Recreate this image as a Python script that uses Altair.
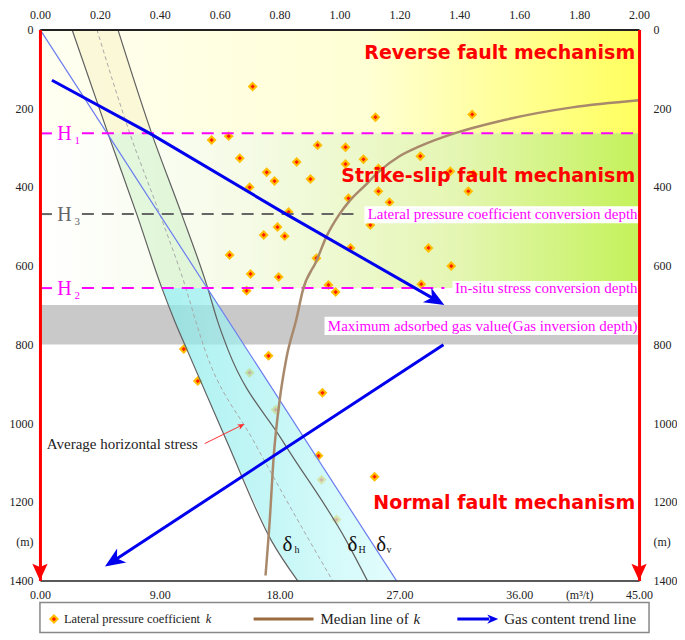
import altair as alt
import pandas as pd

# ---------------- data ----------------
# lateral pressure coefficient k vs depth (m)
k_vals = [0.71, 0.573, 0.63, 0.927, 1.02, 0.667, 0.857, 1.02, 1.08, 0.757,
          0.783, 0.903, 0.70, 1.13, 1.03, 0.83, 1.103, 0.793, 0.747, 0.817,
          1.037, 0.923, 0.633, 0.703, 0.797, 0.963, 0.69, 0.987, 1.12, 1.443,
          1.27, 1.37, 1.43, 1.167, 1.297, 1.373, 1.273, 1.13, 1.447,
          0.48, 0.763, 0.70, 0.527, 0.943, 0.787, 0.93, 0.94, 0.99, 1.117]
k_depth = [145, 281, 271, 294, 299, 327, 337, 342, 330, 363,
           385, 380, 401, 411, 429, 464, 497, 502, 522, 525,
           555, 581, 573, 621, 629, 649, 664, 667, 223, 216,
           322, 360, 411, 439, 555, 601, 647, 353, 368,
           812, 829, 872, 893, 923, 966, 1083, 1144, 1245, 1136]

# stress profiles (plotted on the k axis frame)
stress_depth = [0, 264, 469, 657, 741, 812, 1045, 1299, 1400]
sigma_h = [0.107, 0.227, 0.323, 0.407, 0.45, 0.49, 0.623, 0.773, 0.86]
sigma_H = [0.26, 0.373, 0.473, 0.56, 0.593, 0.627, 0.81, 1.023, 1.093]
sigma_avg = [0.19, 0.30, 0.40, 0.487, 0.52, 0.55, 0.713, 0.90, 0.977]
band_right = [0.26, 0.373, 0.473, 0.56, 0.63, 0.69, 0.888, 1.104, 1.19]
sigma_v_k = [0.0, 1.19]
sigma_v_depth = [0, 1400]

# median line of k
median_k = [0.753, 0.767, 0.78, 0.80, 0.823, 0.857, 0.877, 0.923, 0.957, 1.0,
            1.033, 1.083, 1.133, 1.2, 1.267, 1.383, 1.533, 1.777, 2.0]
median_depth = [1387, 1248, 1088, 943, 834, 733, 664, 588, 525, 469,
                436, 398, 360, 322, 297, 264, 233, 198, 180]

# gas content trend lines
trend1_k = [0.04, 0.367, 0.81, 1.321]
trend1_depth = [129, 264, 464, 687]
trend2_k = [1.347, 0.245]
trend2_depth = [801, 1350]
arrow_k = [1.35, 0.217]
arrow_depth = [700, 1364]
arrow_angle = [30, 147]

# key depths
H_names = ["H", "H", "H"]
H_subs = ["1", "3", "2"]
H_depth = [264, 469, 657]
gas_band = [700, 800]

# zone names
zone_names = ["Reverse fault mechanism", "Strike-slip fault mechanism",
              "Normal fault mechanism"]
zone_depth = [61, 373, 1202]

notes = ["Lateral pressure coefficient conversion depth",
         "In-situ stress conversion depth",
         "Maximum adsorbed gas value(Gas inversion depth)"]
note_depth = [469, 657, 753]
note_box_left = [1.083, 1.377, 0.95]
note_box_top = [449, 639, 730]
note_box_bottom = [492, 677, 776]

top_ticks = [0.0, 0.2, 0.4, 0.6, 0.8, 1.0, 1.2, 1.4, 1.6, 1.8, 2.0]
bottom_ticks = [0.0, 0.4, 0.8, 1.2, 1.6, 1.8, 2.0]
depth_ticks = [0, 200, 400, 600, 800, 1000, 1200, 1300, 1400]

SERIF = "Liberation Serif"
SANS_BOLD = "DejaVu Sans"

X = alt.Scale(domain=[0, 2], nice=False, zero=False)
Y = alt.Scale(domain=[0, 1400], nice=False, zero=False, reverse=True)


def xq(f):
    return alt.X(f"{f}:Q", scale=X, axis=None)


def yq(f):
    return alt.Y(f"{f}:Q", scale=Y, axis=None)


def grad(stops):
    return alt.LinearGradient(
        gradient="linear",
        stops=[alt.GradientStop(offset=o, color=c) for o, c in stops],
        x1=0, x2=1, y1=0, y2=0)


# ---------------- tables ----------------
pts = pd.DataFrame({"k": k_vals, "d": k_depth})
stress = pd.DataFrame({"d": stress_depth, "h": sigma_h, "H": sigma_H,
                       "avg": sigma_avg, "r": band_right,
                       "i": range(len(stress_depth))})
sv = pd.DataFrame({"k": sigma_v_k, "d": sigma_v_depth, "i": [0, 1]})
med = pd.DataFrame({"k": median_k, "d": median_depth,
                    "i": range(len(median_k))})
tr1 = pd.DataFrame({"k": trend1_k, "d": trend1_depth, "i": range(len(trend1_k))})
tr2 = pd.DataFrame({"k": trend2_k, "d": trend2_depth, "i": range(len(trend2_k))})
arrows = pd.DataFrame({"k": arrow_k, "d": arrow_depth, "a": arrow_angle})

zone1 = pd.DataFrame({"x0": [0], "x1": [2], "t": [0], "b": [H_depth[0]]})
zone2 = pd.DataFrame({"x0": [0], "x1": [2], "t": [H_depth[0]], "b": [H_depth[2]]})
grey = pd.DataFrame({"x0": [0], "x1": [2], "t": [gas_band[0]], "b": [gas_band[1]]})

# dashed key-depth lines (split around the H labels)
hl = pd.DataFrame({
    "x0": [0, 0.14, 0, 0.14, 0, 0.14],
    "x1": [0.04, 2.0, 0.04, 1.05, 0.04, 1.35],
    "d": [264, 264, 469, 469, 657, 657],
    "c": ["m", "m", "g", "g", "m", "m"]})

hlab = pd.DataFrame({"k": [0.058] * 3, "ks": [0.115] * 3, "d": H_depth,
                     "t": H_names, "s": H_subs,
                     "c": ["#ff00ff", "#666666", "#ff00ff"]})

zlab = pd.DataFrame({"k": [1.987] * 3, "d": zone_depth, "t": zone_names})
nlab = pd.DataFrame({"k": [1.995] * 3, "d": note_depth, "t": notes,
                     "x0": note_box_left, "x1": [2.0] * 3,
                     "t0": note_box_top, "b0": note_box_bottom})

deltas = pd.DataFrame({"k": [0.81, 1.027, 1.123], "ks": [0.85, 1.063, 1.157],
                       "d": [1324] * 3, "ds": [1331] * 3,
                       "s": ["h", "H", "v"]})

avg_arrow = pd.DataFrame({"k": [0.55, 0.672], "d": [1052, 1006], "i": [0, 1]})
avg_tip = pd.DataFrame({"k": [0.683], "d": [1002]})
avg_text = pd.DataFrame({"k": [0.023], "d": [1052], "t": ["Average horizontal stress"]})

axis_frame = pd.DataFrame({"k": [0, 2], "d": [0, 1400]})
red_tips = pd.DataFrame({"k": [0, 2], "d": [1400, 1400]})

ARROW = "M0,0 L-1,-0.42 L-0.72,0 L-1,0.42 Z"
DOWN = "M0,0 L-0.45,-1 L0,-0.8 L0.45,-1 Z"

# ---------------- layers ----------------
L = []
L.append(alt.Chart(zone1).mark_rect(fill=grad([(0, "#fffff2"), (0.55, "#ffffd4"), (1, "#ffff5e")]))
         .encode(x=xq("x0"), x2="x1", y=yq("t"), y2="b"))
L.append(alt.Chart(zone2).mark_rect(fill=grad([(0, "#ffffff"), (0.35, "#f5fbe6"), (0.7, "#e4f6b2"), (1, "#c4f25a")]))
         .encode(x=xq("x0"), x2="x1", y=yq("t"), y2="b"))
L.append(alt.Chart(grey).mark_rect(fill="#c9c9c9")
         .encode(x=xq("x0"), x2="x1", y=yq("t"), y2="b"))

# scatter
L.append(alt.Chart(pts).mark_point(shape="diamond", filled=True, size=100,
                                   color="#ffbe00", opacity=1, strokeWidth=0)
         .encode(x=xq("k"), y=yq("d")))
L.append(alt.Chart(pts).mark_point(shape="diamond", filled=True, size=18,
                                   color="#ff1a00", opacity=1, strokeWidth=0)
         .encode(x=xq("k"), y=yq("d")))

# stress band
L.append(alt.Chart(stress).transform_filter("datum.d <= 264")
         .mark_area(orient="horizontal", fill="#f6f0c0", opacity=0.45)
         .encode(y=yq("d"), x=alt.X("h:Q", scale=X, axis=None, stack=None), x2="r"))
L.append(alt.Chart(stress).transform_filter("datum.d >= 264 && datum.d <= 657")
         .mark_area(orient="horizontal", fill="#c6efbe", opacity=0.45)
         .encode(y=yq("d"), x=alt.X("h:Q", scale=X, axis=None, stack=None), x2="r"))
L.append(alt.Chart(stress).transform_filter("datum.d >= 657")
         .mark_area(orient="horizontal", fill=grad([(0, "#86eaea"), (1, "#d8fcfc")]), opacity=0.7)
         .encode(y=yq("d"), x=alt.X("h:Q", scale=X, axis=None, stack=None), x2="r"))

# stress lines
for f, col, dash, w in [("h", "#606060", None, 1.2), ("H", "#606060", None, 1.2),
                        ("avg", "#a8a8a8", [4, 3], 1.0)]:
    kw = dict(color=col, strokeWidth=w, interpolate="monotone")
    if dash:
        kw["strokeDash"] = dash
    L.append(alt.Chart(stress).mark_line(**kw)
             .encode(x=xq(f), y=yq("d"), order=alt.Order("i:Q")))
L.append(alt.Chart(sv).mark_line(color="#6a7cf0", strokeWidth=1.2)
         .encode(x=xq("k"), y=yq("d"), order=alt.Order("i:Q")))

# key depth dashed lines
L.append(alt.Chart(hl).mark_rule(strokeDash=[12, 8], strokeWidth=2)
         .encode(x=xq("x0"), x2="x1", y=yq("d"),
                 color=alt.Color("c:N", scale=alt.Scale(domain=["m", "g"], range=["#ff00ff", "#666666"]),
                                 legend=None)))

# median line
L.append(alt.Chart(med).mark_line(color="#a8896c", strokeWidth=2.5, interpolate="monotone")
         .encode(x=xq("k"), y=yq("d"), order=alt.Order("i:Q")))

# white boxes behind notes + notes
L.append(alt.Chart(nlab).mark_rect(fill="white")
         .encode(x=xq("x0"), x2="x1", y=yq("t0"), y2="b0"))
L.append(alt.Chart(nlab).mark_text(align="right", baseline="middle", font=SERIF,
                                   fontSize=15, color="#ff00ff")
         .encode(x=xq("k"), y=yq("d"), text="t:N"))

# H labels
L.append(alt.Chart(hlab).mark_text(align="left", baseline="alphabetic", font=SERIF,
                                   fontSize=20, dy=7)
         .encode(x=xq("k"), y=yq("d"), text="t:N", color=alt.Color("c:N", scale=None)))
L.append(alt.Chart(hlab).mark_text(align="left", baseline="alphabetic", font=SERIF,
                                   fontSize=11, dy=11)
         .encode(x=xq("ks"), y=yq("d"), text="s:N", color=alt.Color("c:N", scale=None)))

# zone names
L.append(alt.Chart(zlab).mark_text(align="right", baseline="middle", font=SANS_BOLD,
                                   fontWeight="bold", fontSize=19, color="#ff0000")
         .encode(x=xq("k"), y=yq("d"), text="t:N"))

# delta labels
L.append(alt.Chart(deltas).mark_text(align="left", baseline="alphabetic", font=SERIF,
                                     fontSize=21, color="#111111", text="δ")
         .encode(x=xq("k"), y=yq("d")))
L.append(alt.Chart(deltas).mark_text(align="left", baseline="alphabetic", font=SERIF,
                                     fontSize=10, color="#111111")
         .encode(x=xq("ks"), y=yq("ds"), text="s:N"))

# average horizontal stress annotation
L.append(alt.Chart(avg_arrow).mark_line(color="#ff3030", strokeWidth=1)
         .encode(x=xq("k"), y=yq("d"), order=alt.Order("i:Q")))
L.append(alt.Chart(avg_tip).mark_point(shape=ARROW, size=196, angle=333, filled=True,
                                       color="#ff3030", opacity=1, strokeWidth=0)
         .encode(x=xq("k"), y=yq("d")))
L.append(alt.Chart(avg_text).mark_text(align="left", baseline="middle", font=SERIF,
                                       fontSize=15, color="#222222")
         .encode(x=xq("k"), y=yq("d"), text="t:N"))

# gas content trend lines
for t in (tr1, tr2):
    L.append(alt.Chart(t).mark_line(color="#0000ee", strokeWidth=3)
             .encode(x=xq("k"), y=yq("d"), order=alt.Order("i:Q")))
L.append(alt.Chart(arrows).mark_point(shape=ARROW, size=1600, filled=True,
                                      color="#0000ee", opacity=1, strokeWidth=0)
         .encode(x=xq("k"), y=yq("d"), angle=alt.Angle("a:Q", scale=None)))

# red axis arrow heads
L.append(alt.Chart(red_tips).mark_point(shape=DOWN, size=1156, filled=True,
                                        color="#ff0000", opacity=1, strokeWidth=0)
         .encode(x=xq("k"), y=yq("d")))

inner = alt.layer(*L)

ax_common = dict(ticks=False, tickSize=0, grid=False, title=None, labelFont=SERIF,
                 labelFontSize=12, labelColor="#222222", labelFlush=False,
                 labelOverlap=False, zindex=1)

axisA = alt.Chart(axis_frame).mark_point(opacity=0).encode(
    x=alt.X("k:Q", scale=X, axis=alt.Axis(
        orient="bottom", values=bottom_ticks, domainColor="#222222", domainWidth=1.5,
        labelPadding=9,
        labelExpr="datum.value == 1.8 ? '(m³/t)' : format(datum.value * 22.5, '.2f')",
        **ax_common)),
    y=alt.Y("d:Q", scale=Y, axis=alt.Axis(
        orient="left", values=depth_ticks, domainColor="#ff0000", domainWidth=3,
        labelPadding=7,
        labelExpr="datum.value == 1300 ? '(m)' : datum.value",
        **ax_common)))

axisB = alt.Chart(axis_frame).mark_point(opacity=0).encode(
    x=alt.X("k:Q", scale=X, axis=alt.Axis(
        orient="top", values=top_ticks, format=".2f", domainColor="#222222",
        domainWidth=2, labelPadding=8, **ax_common)),
    y=alt.Y("d:Q", scale=Y, axis=alt.Axis(
        orient="right", values=depth_ticks, domainColor="#ff0000", domainWidth=3,
        labelPadding=14, labelAlign="left",
        labelExpr="datum.value == 1300 ? '(m)' : datum.value",
        **ax_common)))

main = alt.layer(inner, axisA, axisB).resolve_scale(
    x="independent", y="independent").properties(width=600, height=552)

# ---------------- legend ----------------
LX = alt.Scale(domain=[0, 610], nice=False, zero=False)
LY = alt.Scale(domain=[0, 1], nice=False, zero=False)


def lx(f):
    return alt.X(f"{f}:Q", scale=LX, axis=None)


def ly(f):
    return alt.Y(f"{f}:Q", scale=LY, axis=None)


leg_box = pd.DataFrame({"x0": [0], "x1": [610], "y0": [0], "y1": [1]})
leg_marker = pd.DataFrame({"x": [14], "y": [0.45]})
leg_text = pd.DataFrame({"x": [24, 281, 465], "y": [0.45] * 3,
                         "t": ["Lateral pressure coefficient", "Median line of",
                               "Gas content trend line"],
                         "s": [12.5, 15, 15]})
leg_k = pd.DataFrame({"x": [166, 374], "y": [0.45] * 2, "t": ["k", "k"], "s": [12.5, 15]})
leg_brown = pd.DataFrame({"x0": [214], "x1": [274], "y": [0.45]})
leg_blue = pd.DataFrame({"x0": [418], "x1": [450], "y": [0.45]})
leg_tip = pd.DataFrame({"x": [459], "y": [0.45]})

LG = [
    alt.Chart(leg_box).mark_rect(fill="white", stroke="#888888", strokeWidth=1.5)
    .encode(x=lx("x0"), x2="x1", y=ly("y0"), y2="y1"),
    alt.Chart(leg_marker).mark_point(shape="diamond", filled=True, size=100, color="#ffbe00",
                                     opacity=1, strokeWidth=0).encode(x=lx("x"), y=ly("y")),
    alt.Chart(leg_marker).mark_point(shape="diamond", filled=True, size=18, color="#ff1a00",
                                     opacity=1, strokeWidth=0).encode(x=lx("x"), y=ly("y")),
    alt.Chart(leg_text).mark_text(align="left", baseline="middle", font=SERIF, color="#222222")
    .encode(x=lx("x"), y=ly("y"), text="t:N", size=alt.Size("s:Q", scale=None)),
    alt.Chart(leg_k).mark_text(align="left", baseline="middle", font=SERIF, fontStyle="italic",
                               color="#222222")
    .encode(x=lx("x"), y=ly("y"), text="t:N", size=alt.Size("s:Q", scale=None)),
    alt.Chart(leg_brown).mark_rule(color="#9a6b3f", strokeWidth=3)
    .encode(x=lx("x0"), x2="x1", y=ly("y")),
    alt.Chart(leg_blue).mark_rule(color="#0000ee", strokeWidth=3)
    .encode(x=lx("x0"), x2="x1", y=ly("y")),
    alt.Chart(leg_tip).mark_point(shape=ARROW, size=484, filled=True, color="#0000ee",
                                  opacity=1, strokeWidth=0).encode(x=lx("x"), y=ly("y")),
]
legend = alt.layer(*LG).properties(width=610, height=30)

chart = alt.vconcat(main, legend, spacing=22, bounds="flush").properties(
    padding={"left": 1, "top": 0, "right": 0, "bottom": 0}
).configure_view(stroke=None)

chart.save("out.html", embed_options={"renderer": "svg", "actions": False})
